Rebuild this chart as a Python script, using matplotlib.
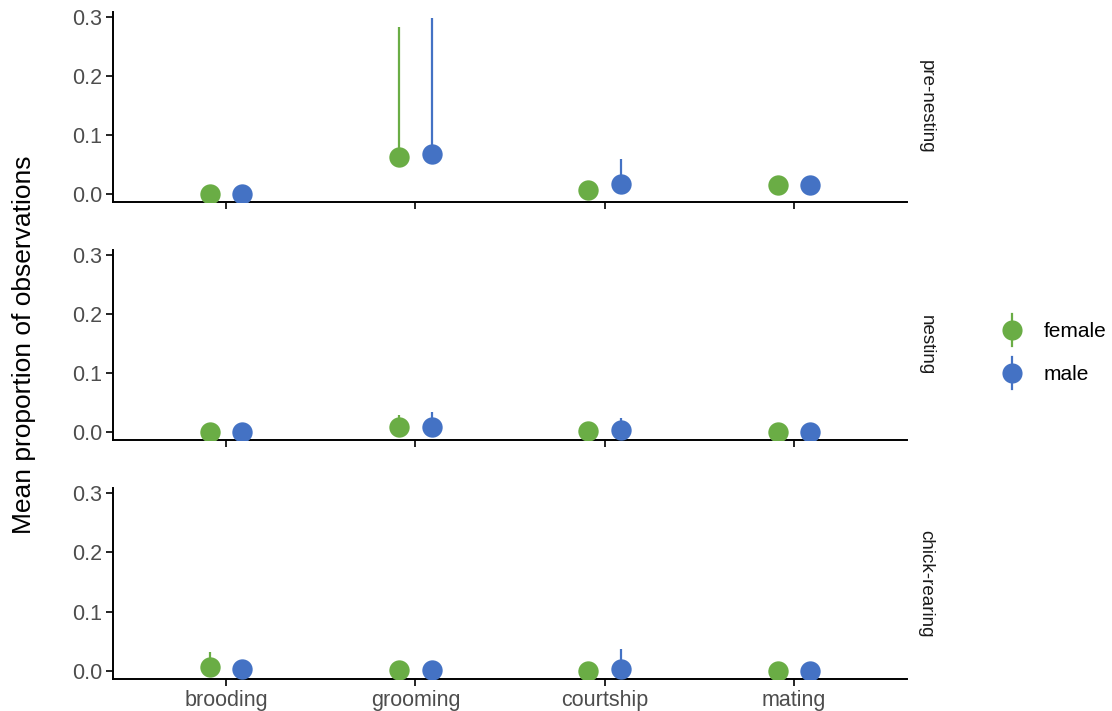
import matplotlib
matplotlib.use("Agg")
import matplotlib.pyplot as plt
import numpy as np
from matplotlib.lines import Line2D
from matplotlib.legend_handler import HandlerBase

plt.rcParams['font.family'] = ['Liberation Sans', 'DejaVu Sans']

behaviours = ["brooding", "grooming", "courtship", "mating"]
periods = ["pre-nesting", "nesting", "chick-rearing"]
sexes = ["female", "male"]
colors = {"female": "#6aad45", "male": "#4472c4"}

# means per period, per sex, per behaviour
female_mean = {
    "pre-nesting":   [0.000, 0.062, 0.007, 0.015],
    "nesting":       [0.000, 0.008, 0.002, 0.000],
    "chick-rearing": [0.007, 0.001, 0.000, 0.000],
}
female_upper = {
    "pre-nesting":   [0.000, 0.283, 0.012, 0.015],
    "nesting":       [0.000, 0.029, 0.002, 0.000],
    "chick-rearing": [0.032, 0.001, 0.000, 0.000],
}
male_mean = {
    "pre-nesting":   [0.000, 0.068, 0.017, 0.015],
    "nesting":       [0.000, 0.009, 0.003, 0.000],
    "chick-rearing": [0.003, 0.002, 0.003, 0.000],
}
male_upper = {
    "pre-nesting":   [0.000, 0.297, 0.059, 0.015],
    "nesting":       [0.000, 0.033, 0.024, 0.000],
    "chick-rearing": [0.012, 0.002, 0.037, 0.000],
}

W, H = 1112, 711
fig = plt.figure(figsize=(W / 100, H / 100), dpi=100)

left = 113 / W
width = (907 - 113) / W
panel_px = [(12, 202), (250, 440), (488, 679)]

x = np.arange(1, len(behaviours) + 1)
dodge = 0.085
tick_color = "#4d4d4d"
tick_fs = 15.5

for i, period in enumerate(periods):
    top, bot = panel_px[i]
    ax = fig.add_axes([left, 1 - bot / H, width, (bot - top) / H])
    for sex, off in (("female", -dodge), ("male", dodge)):
        m = np.array(female_mean[period] if sex == "female" else male_mean[period])
        u = np.array(female_upper[period] if sex == "female" else male_upper[period])
        xs = x + off
        ax.vlines(xs, m, u, color=colors[sex], lw=1.6, zorder=2)
        ax.scatter(xs, m, s=215, color=colors[sex], zorder=3, linewidths=0)
    ax.set_xlim(0.4, 4.6)
    ax.set_ylim(-0.0136, 0.308)
    ax.set_yticks([0.0, 0.1, 0.2, 0.3])
    ax.set_yticklabels(["0.0", "0.1", "0.2", "0.3"])
    ax.set_xticks(x)
    if i == len(periods) - 1:
        ax.set_xticklabels(behaviours)
    else:
        ax.set_xticklabels([])
    for s in ("top", "right"):
        ax.spines[s].set_visible(False)
    for s in ("left", "bottom"):
        ax.spines[s].set_linewidth(1.4)
        ax.spines[s].set_color("black")
    ax.tick_params(axis="both", length=5, width=1.2, color="black",
                   labelsize=tick_fs, labelcolor=tick_color, pad=3)
    ax.text(1.013, 0.5, period, transform=ax.transAxes, rotation=-90,
            ha="left", va="center", fontsize=13.5, color="#1a1a1a")

fig.text(24 / W, 1 - 345 / H, "Mean proportion of observations", rotation=90,
         ha="center", va="center", fontsize=19, color="black")


class HandlerPointRange(HandlerBase):
    def create_artists(self, legend, orig_handle, xd, yd, width, height, fontsize, trans):
        cx = xd + width / 2
        c = orig_handle.get_color()
        ln = Line2D([cx, cx], [yd - height * 0.6, yd + height * 1.6], color=c, lw=1.6, transform=trans)
        pt = Line2D([cx], [yd + height / 2], marker="o", markersize=14.5, color=c,
                    linestyle="none", transform=trans, markeredgewidth=0)
        return [ln, pt]


handles = [Line2D([0], [0], color=colors[s], marker="o", linestyle="none") for s in sexes]
leg = fig.legend(handles, sexes, loc="center left", bbox_to_anchor=(986 / W, 1 - 353 / H),
                 frameon=False, fontsize=15, handler_map={Line2D: HandlerPointRange()},
                 labelspacing=1.15, handlelength=1.5, handletextpad=0.75, borderpad=0)

fig.savefig("out.png", dpi=100)
